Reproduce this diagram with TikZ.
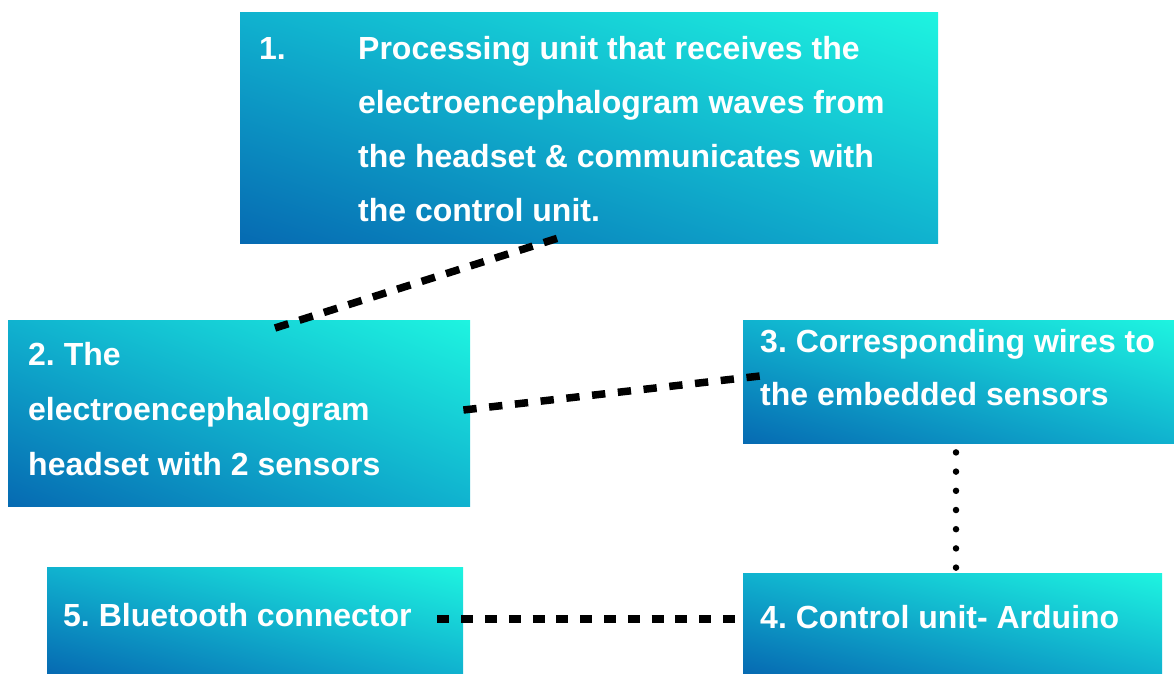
\documentclass[tikz,border=0pt]{standalone}
\usepackage{fontspec}
\setmainfont{Liberation Sans}
\usetikzlibrary{shadings,calc}
\frenchspacing
\definecolor{cdark}{RGB}{6,106,178}
\definecolor{cmid}{RGB}{16,178,207}
\definecolor{clight}{RGB}{30,244,224}
\tikzset{
  panel/.style={shading=bilinear interpolation, lower left=cdark, upper right=clight,
    upper left=cmid, lower right=cmid, anchor=north west, inner sep=0pt, draw=none},
  lbl/.style={anchor=base west, inner sep=0pt, text=white,
    font=\fontsize{32}{38}\selectfont\bfseries},
  dashlink/.style={line width=7.5pt, dash pattern=on 14pt off 11.64pt},
  dashlinkb/.style={line width=7.5pt, dash pattern=on 13.3pt off 12.6pt},
  dashlinkc/.style={line width=7.5pt, dash pattern=on 12pt off 11.8pt},
  dotlink/.style={line width=6.5pt, line cap=round, dash pattern=on 0pt off 19.2pt},
}
\begin{document}
\begin{tikzpicture}[x=1pt,y=-1pt]
\useasboundingbox (0,0) rectangle (1174,673);
% panels
\node[panel, minimum width=698pt, minimum height=231pt] (b1) at (240,12) {};
\node[panel, minimum width=462pt, minimum height=186pt] (b2) at (8,320) {};
\node[panel, minimum width=431pt, minimum height=123pt] (b3) at (743,320) {};
\node[panel, minimum width=419pt, minimum height=100pt] (b4) at (743,573) {};
\node[panel, minimum width=416pt, minimum height=106pt] (b5) at (47,567) {};
% texts
\node[lbl] (t1n) at (259,59) {1.};
\node[lbl] (t1a) at (358,59) {Processing unit that receives the};
\node[lbl] (t1b) at (358,113) {electroencephalogram waves from};
\node[lbl] (t1c) at (358,167) {the headset \& communicates with};
\node[lbl] (t1d) at (358,221) {the control unit.};
\node[lbl] (t2a) at (28,365) {2. The};
\node[lbl] (t2b) at (28,420) {electroencephalogram};
\node[lbl] (t2c) at (28,475) {headset with 2 sensors};
\node[lbl] (t3a) at (760,352) {3. Corresponding wires to};
\node[lbl] (t3b) at (760,405) {the embedded sensors};
\node[lbl] (t4) at (760,628) {4. Control unit- Arduino};
\node[lbl] (t5) at (63,626) {5. Bluetooth connector};
% connector ends
\coordinate (c1) at ($(b1.south west)+(317,-5)$);
\coordinate (c2) at ($(b2.north west)+(267,8)$);
\coordinate (c2r) at ($(b2.north east)+(-7,90)$);
\coordinate (c3l) at ($(b3.north west)+(17,56)$);
\coordinate (c3b) at ($(b3.south west)+(213,9)$);
\coordinate (c4t) at ($(b4.north west)+(213,-4)$);
\coordinate (c5r) at ($(b5.north east)+(-26,52)$);
\coordinate (c4l) at ($(b4.north west)+(-8,46)$);
% connectors
\draw[dashlink] (c2) -- (c1);
\draw[dashlinkb] (c2r) -- (c3l);
\draw[dotlink] (c3b) -- (c4t);
\draw[dashlinkc] (c5r) -- (c4l);
\end{tikzpicture}
\end{document}
